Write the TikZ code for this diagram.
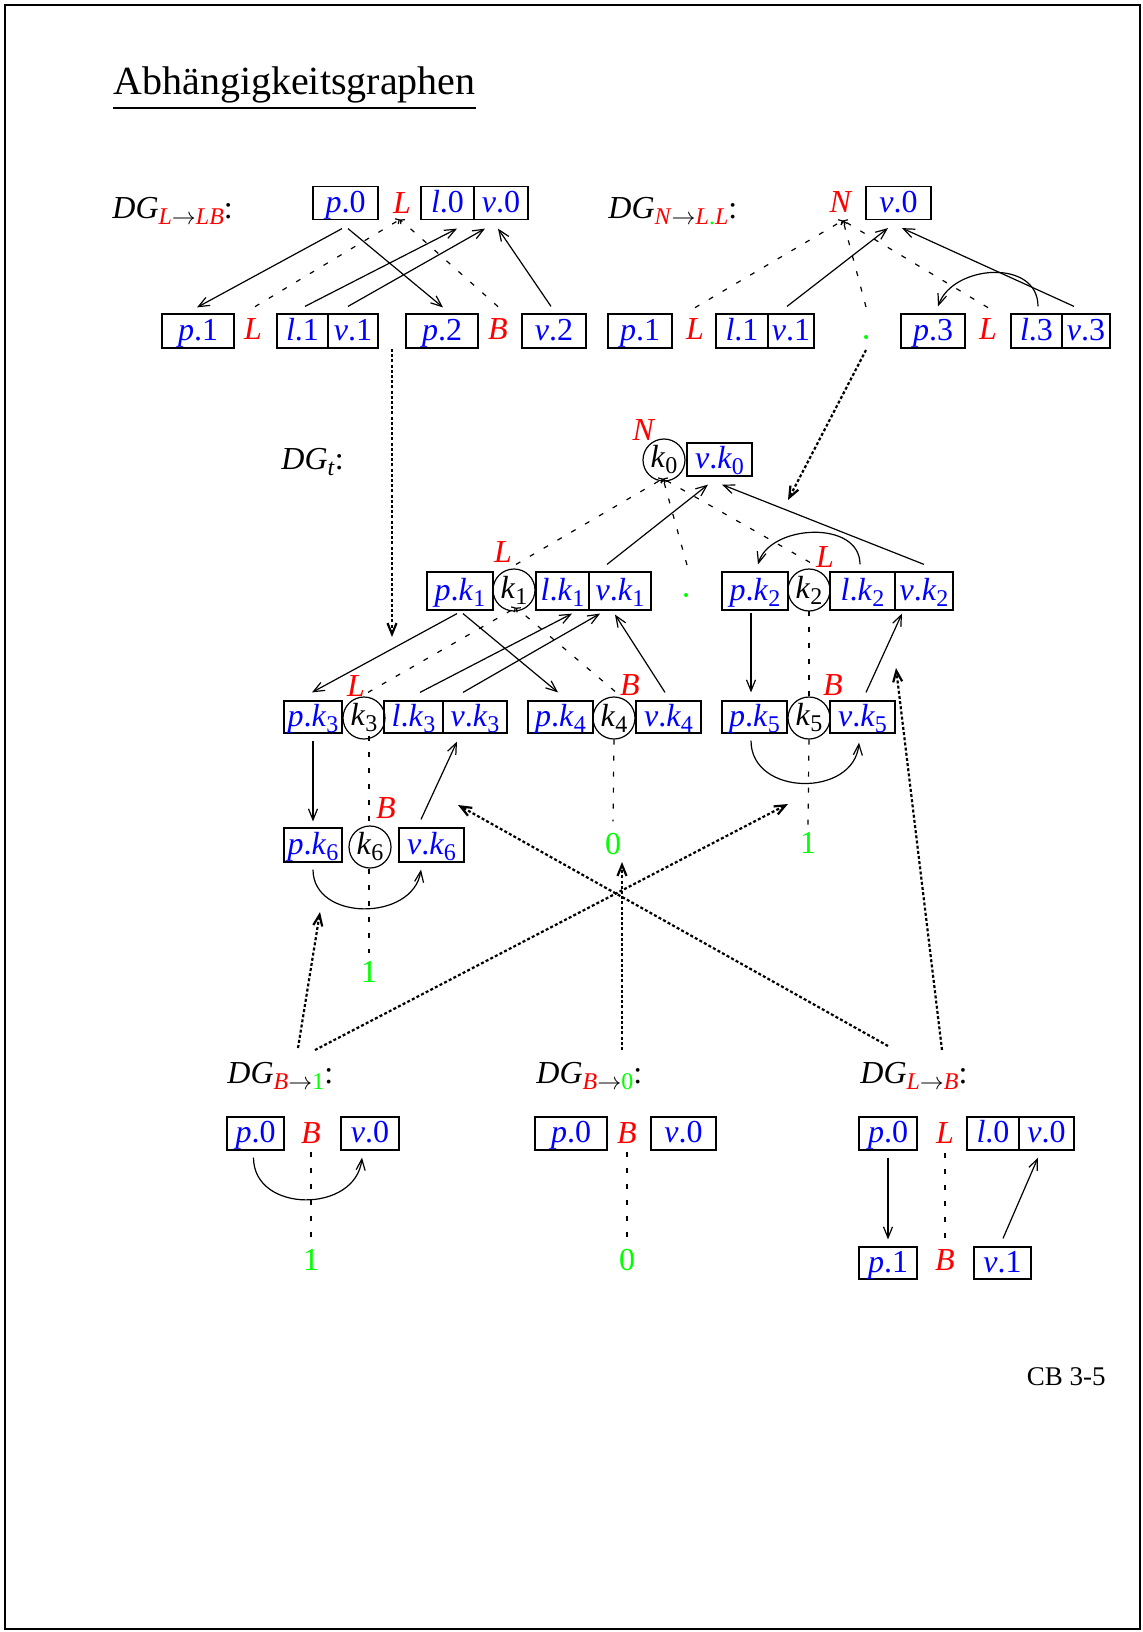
\documentclass[tikz,border=0pt]{standalone}
\usepackage{fontspec}
\setmainfont{Liberation Serif}
\usetikzlibrary{arrows.meta,calc}
\newcommand{\myit}[1]{\textit{#1}}
\newcommand{\mysub}[1]{\raisebox{-3pt}{\fontsize{12}{14}\selectfont #1}}
\tikzset{
 bx/.style={draw, line width=0.6pt, text=blue, inner sep=0pt, text height=11pt, text depth=2pt, minimum height=16.5pt},
 crc/.style={draw, circle, line width=0.6pt, inner sep=0pt, minimum size=21pt},
 rl/.style={text=red, inner sep=1pt, anchor=base},
 gl/.style={text=green, inner sep=1pt, anchor=base},
 lbl/.style={anchor=base west, inner sep=0pt},
 gdot/.style={circle, fill=green, inner sep=0pt, minimum size=2pt},
 arr/.style={line width=0.6pt, -{Straight Barb[length=5.5pt,width=4.5pt]}},
 dsh/.style={line width=0.6pt, dash pattern=on 2.5pt off 5.5pt},
 dshtip/.style={dsh, -{Straight Barb[length=1.5pt,width=3pt]}},
 dtt/.style={line width=1.1pt, dash pattern=on 1.5pt off 1.1pt, -{Straight Barb[length=5.5pt,width=4.5pt]}},
}
\begin{document}
\begin{tikzpicture}[x=0.5pt,y=-0.5pt,font=\fontsize{16}{19}\selectfont]
\useasboundingbox (0,0) rectangle (1142,1632);
\draw[line width=0.6pt] (5,5) rectangle (1140,1629);
% title
\node[lbl, font=\fontsize{20}{24}\selectfont] (title) at (113,95) {Abhängigkeitsgraphen};
\draw[line width=1.1pt] ($(title.base west)+(0,13)$) -- ($(title.base east)+(0,13)$);

% ---------- DG L->LB
\node[lbl] (dgA) at (112,218) {\myit{DG}\mysub{\textcolor{red}{\myit{L}}$\rightarrow$\textcolor{red}{\myit{LB}}}:};
\node[bx, minimum width=32.5pt] (p0a) at (345.5,203) {\myit{p}.0};
\node[rl] (La) at (402,213) {\myit{L}};
\node[bx, minimum width=26.5pt] (l0a) at (447.5,203) {\myit{l}.0};
\node[bx, minimum width=27pt] (v0a) at (501,203) {\myit{v}.0};
\node[bx, minimum width=36pt, minimum height=17pt] (p1a) at (198,331) {\myit{p}.1};
\node[rl] (Lb) at (253,339) {\myit{L}};
\node[bx, minimum width=25.5pt, minimum height=17pt] (l1a) at (302.5,331) {\myit{l}.1};
\node[bx, minimum width=25pt, minimum height=17pt] (v1a) at (353,331) {\myit{v}.1};
\node[bx, minimum width=36pt, minimum height=17pt] (p2a) at (442,331) {\myit{p}.2};
\node[rl] (Ba) at (498,339) {\myit{B}};
\node[bx, minimum width=32pt, minimum height=17pt] (v2a) at (554,331) {\myit{v}.2};
\draw[arr] ($(p0a.south)+(-3.5,8.5)$) -- ($(p1a.north)+(-1,-6)$);
\draw[arr] ($(p0a.south)+(2.5,8.5)$) -- ($(p2a.north)+(1,-6)$);
\draw[arr] ($(l1a.north)+(2.5,-7)$) -- ($(l0a.south)+(9.5,8.5)$);
\draw[arr] ($(v1a.north)+(-5,-7)$) -- ($(v0a.south)+(-16,8.5)$);
\draw[arr] ($(v2a.north)+(-3,-7)$) -- ($(v0a.south)+(-3,8.5)$);
\draw[dshtip] ($(Lb.north)+(2,-9)$) -- ($(La.south)+(-2,4)$);
\draw[dshtip] ($(Ba.north)+(0,-9)$) -- ($(La.south)+(-2,4)$);

% ---------- DG N->L.L
\node[lbl] (dgN) at (608,218) {\myit{DG}\mysub{\textcolor{red}{\myit{N}}$\rightarrow$\textcolor{red}{\myit{L}}\textcolor{green}{.}\textcolor{red}{\myit{L}}}:};
\node[rl] (Nn) at (841,212) {\myit{N}};
\node[bx, minimum width=32.5pt] (v0n) at (898.5,203) {\myit{v}.0};
\node[bx, minimum width=32pt, minimum height=17pt] (p1n) at (640,331) {\myit{p}.1};
\node[rl] (Ln1) at (695,339) {\myit{L}};
\node[bx, minimum width=26pt, minimum height=17pt] (l1n) at (742,331) {\myit{l}.1};
\node[bx, minimum width=23pt, minimum height=17pt] (v1n) at (791,331) {\myit{v}.1};
\node[gdot] (dotn) at (866,337) {};
\node[bx, minimum width=32pt, minimum height=17pt] (p3n) at (933,331) {\myit{p}.3};
\node[rl] (Ln3) at (988,339) {\myit{L}};
\node[bx, minimum width=25.5pt, minimum height=17pt] (l3n) at (1036.5,331) {\myit{l}.3};
\node[bx, minimum width=24pt, minimum height=17pt] (v3n) at (1086,331) {\myit{v}.3};
\draw[arr] ($(v1n.north)+(-4,-7)$) -- ($(v0n.south)+(-10.5,8)$);
\draw[arr] ($(v3n.north)+(-12,-7)$) -- ($(v0n.south)+(3.5,8)$);
\draw[arr] ($(l3n.north)+(1.5,-7)$) .. controls +(0,-48) and +(15,-42) .. ($(p3n.north)+(5,-7)$);
\draw[dshtip] ($(Ln1.north)+(0,-8)$) -- ($(Nn.south)+(2,6)$);
\draw[dshtip] ($(dotn)+(0,-30)$) -- ($(Nn.south)+(2,6)$);
\draw[dshtip] ($(Ln3.north)+(0,-8)$) -- ($(Nn.south)+(2,6)$);

% ---------- DG t
\node[lbl] (dgT) at (281,469) {\myit{DG}\mysub{\myit{t}}:};
\node[rl] (Nt) at (644,440) {\myit{N}};
\node[crc] (k0) at (664,460) {\myit{k}\mysub{0}};
\node[bx, minimum width=32.5pt] (vk0) at (719.5,459.5) {\myit{v}.\myit{k}\mysub{0}};
% row 1
\node[bx, minimum width=33pt, minimum height=19pt] (pk1) at (460,591) {\myit{p}.\myit{k}\mysub{1}};
\node[crc] (k1) at (514,590) {\myit{k}\mysub{1}};
\node[bx, minimum width=26.5pt, minimum height=19pt] (lk1) at (562.5,591) {\myit{l}.\myit{k}\mysub{1}};
\node[bx, minimum width=31pt, minimum height=19pt] (vk1) at (620,591) {\myit{v}.\myit{k}\mysub{1}};
\node[rl] (Lk1) at (503,562) {\myit{L}};
\node[gdot] (dott) at (686,595) {};
\node[bx, minimum width=33pt, minimum height=19pt] (pk2) at (755,591) {\myit{p}.\myit{k}\mysub{2}};
\node[crc] (k2) at (809,590) {\myit{k}\mysub{2}};
\node[bx, minimum width=32.5pt, minimum height=19pt] (lk2) at (862.5,591) {\myit{l}.\myit{k}\mysub{2}};
\node[bx, minimum width=29pt, minimum height=19pt] (vk2) at (924,591) {\myit{v}.\myit{k}\mysub{2}};
\node[rl] (Lk2) at (825,567) {\myit{L}};
% row 2
\node[bx, minimum width=29pt, minimum height=16pt] (pk3) at (313,717) {\myit{p}.\myit{k}\mysub{3}};
\node[crc] (k3) at (364,718) {\myit{k}\mysub{3}};
\node[bx, minimum width=29.5pt, minimum height=16pt] (lk3) at (413.5,717) {\myit{l}.\myit{k}\mysub{3}};
\node[bx, minimum width=32pt, minimum height=16pt] (vk3) at (475,717) {\myit{v}.\myit{k}\mysub{3}};
\node[rl] (Lk3) at (356,696) {\myit{L}};
\node[bx, minimum width=32.5pt, minimum height=16pt] (pk4) at (560.5,717) {\myit{p}.\myit{k}\mysub{4}};
\node[crc] (k4) at (614,718) {\myit{k}\mysub{4}};
\node[bx, minimum width=32.5pt, minimum height=16pt] (vk4) at (668.5,717) {\myit{v}.\myit{k}\mysub{4}};
\node[rl] (Bk4) at (630,695) {\myit{B}};
\node[bx, minimum width=32.5pt, minimum height=16pt] (pk5) at (754.5,717) {\myit{p}.\myit{k}\mysub{5}};
\node[crc] (k5) at (809,718) {\myit{k}\mysub{5}};
\node[bx, minimum width=32.5pt, minimum height=16pt] (vk5) at (862.5,717) {\myit{v}.\myit{k}\mysub{5}};
\node[rl] (Bk5) at (833,695) {\myit{B}};
% row 3
\node[bx, minimum width=29pt, minimum height=17pt] (pk6) at (313,845) {\myit{p}.\myit{k}\mysub{6}};
\node[crc] (k6) at (370,847) {\myit{k}\mysub{6}};
\node[bx, minimum width=32.5pt, minimum height=17pt] (vk6) at (431.5,845) {\myit{v}.\myit{k}\mysub{6}};
\node[rl] (Bk6) at (386,818) {\myit{B}};
\node[gl] (oneA) at (369,982) {1};
\node[gl] (zeroT) at (613,854) {0};
\node[gl] (oneB) at (808,853) {1};
% edges DG t
\draw[arr] ($(vk1.north)+(-13,-7)$) -- ($(vk0.south)+(-11.5,8)$);
\draw[arr] ($(vk2.north)+(0,-7)$) -- ($(vk0.south)+(2.5,8)$);
\draw[arr] ($(lk2.north)+(-2.5,-7)$) .. controls +(0,-45) and +(12,-40) .. ($(pk2.north)+(3,-7)$);
\draw[dshtip] ($(k1.north)+(2,-4)$) -- ($(k0.south)+(-1,-3)$);
\draw[dshtip] ($(dott)+(1,-30)$) -- ($(k0.south)+(-1,-3)$);
\draw[dshtip] ($(k2.north)+(1,-6)$) -- ($(k0.south)+(-1,-3)$);
\draw[arr] ($(pk1.south)+(-3,3)$) -- ($(pk3.north)+(-1,-8)$);
\draw[arr] ($(pk1.south)+(3,3)$) -- ($(pk4.north)+(-2.5,-8)$);
\draw[arr] ($(lk3.north)+(6.5,-8)$) -- ($(lk1.south)+(9.5,3)$);
\draw[arr] ($(vk3.north)+(-12,-8)$) -- ($(vk1.south)+(-20,3)$);
\draw[arr] ($(vk4.north)+(-3.5,-8)$) -- ($(vk1.south)+(-5,4)$);
\draw[dshtip] ($(k3.north)+(4,-4)$) -- ($(k1.south)+(2,-4)$);
\draw[dshtip] ($(k4.north)+(1,-5)$) -- ($(k1.south)+(2,-4)$);
\draw[arr] ($(pk2.south)+(-4,2)$) -- ($(pk5.north)+(-3.5,-8)$);
\draw[arr] ($(vk5.north)+(3.5,-8)$) -- ($(vk2.south)+(-22,3)$);
\draw[dsh] (k5.north) -- ($(k2.south)+(0,-6)$);
\draw[arr] ($(pk3.south)+(0,7)$) -- ($(pk6.north)+(0,-6)$);
\draw[arr] ($(vk6.north)+(-10.5,-8)$) -- ($(vk3.south)+(-18,8)$);
\draw[dsh] ($(k3.south)+(5,-4)$) -- ($(k6.north)+(-1,0)$);
\draw[dsh] ($(k6.south)+(-1,0)$) -- ($(oneA.north)+(0,-5)$);
\draw[arr] ($(pk6.south)+(0,7)$) .. controls +(0,52) and +(-8,52) .. ($(vk6.south)+(-10.5,7)$);
\draw[dsh] (k4.south) -- ($(zeroT.north)+(0,-9)$);
\draw[dsh] (k5.south) -- ($(oneB.north)+(0,-4)$);
\draw[arr] ($(pk5.south)+(-3.5,7)$) .. controls +(0,56) and +(-5,55) .. ($(vk5.south)+(-3.5,9)$);

% ---------- DG B->1
\node[lbl] (dgB1) at (227,1083) {\myit{DG}\mysub{\textcolor{red}{\myit{B}}$\rightarrow$\textcolor{green}{1}}:};
\node[bx, minimum width=28.5pt] (p0b1) at (255.5,1133.5) {\myit{p}.0};
\node[rl] (Bb1) at (311,1143) {\myit{B}};
\node[bx, minimum width=29pt] (v0b1) at (370,1133.5) {\myit{v}.0};
\node[gl] (oneb1) at (311,1270) {1};
\draw[arr] ($(p0b1.south)+(-2,7)$) .. controls +(0,56) and +(-6,56) .. ($(v0b1.south)+(-8,7)$);
\draw[dsh] ($(Bb1.south)+(0,6)$) -- ($(oneb1.north)+(0,-6)$);

% ---------- DG B->0
\node[lbl] (dgB0) at (536,1083) {\myit{DG}\mysub{\textcolor{red}{\myit{B}}$\rightarrow$\textcolor{green}{0}}:};
\node[bx, minimum width=36pt] (p0b0) at (571,1133.5) {\myit{p}.0};
\node[rl] (Bb0) at (627,1143) {\myit{B}};
\node[bx, minimum width=32.5pt] (v0b0) at (683.5,1133.5) {\myit{v}.0};
\node[gl] (zerob0) at (627,1270) {0};
\draw[dsh] ($(Bb0.south)+(0,6)$) -- ($(zerob0.north)+(0,-6)$);

% ---------- DG L->B
\node[lbl] (dgLB) at (860,1083) {\myit{DG}\mysub{\textcolor{red}{\myit{L}}$\rightarrow$\textcolor{red}{\myit{B}}}:};
\node[bx, minimum width=29pt] (p0lb) at (888,1133.5) {\myit{p}.0};
\node[rl] (Llb) at (945,1143) {\myit{L}};
\node[bx, minimum width=26pt] (l0lb) at (993,1133.5) {\myit{l}.0};
\node[bx, minimum width=27.5pt] (v0lb) at (1046.5,1133.5) {\myit{v}.0};
\node[bx, minimum width=29pt, minimum height=16pt] (p1lb) at (888,1263) {\myit{p}.1};
\node[rl] (Blb) at (945,1270) {\myit{B}};
\node[bx, minimum width=28.5pt, minimum height=16pt] (v1lb) at (1002.5,1263) {\myit{v}.1};
\draw[arr] ($(p0lb.south)+(0,7)$) -- ($(p1lb.north)+(0,-7)$);
\draw[arr] ($(v1lb.north)+(0.5,-8)$) -- ($(v0lb.south)+(-8.5,7)$);
\draw[dsh] ($(Llb.south)+(0,8)$) -- ($(Blb.north)+(0,-4)$);

% ---------- dotted links
\coordinate (dA1) at (392,349); \coordinate (dA2) at (392,637);
\coordinate (dN1) at (866,350); \coordinate (dN2) at (788,500);
\coordinate (dB1a) at (298,1048); \coordinate (dB1aE) at (320,912);
\coordinate (dB1b) at (315,1050); \coordinate (dB1bE) at (788,804);
\coordinate (dB0) at (622,1050); \coordinate (dB0E) at (622,862);
\coordinate (dLBa) at (888,1046); \coordinate (dLBaE) at (458,805);
\coordinate (dLBb) at (942,1050); \coordinate (dLBbE) at (896,668);
\draw[dtt] (dA1) -- (dA2);
\draw[dtt] (dN1) -- (dN2);
\draw[dtt] (dB1a) -- (dB1aE);
\draw[dtt] (dB1b) -- (dB1bE);
\draw[dtt] (dB0) -- (dB0E);
\draw[dtt] (dLBa) -- (dLBaE);
\draw[dtt] (dLBb) -- (dLBbE);

\node[anchor=base east, inner sep=0pt, font=\fontsize{13.5}{16}\selectfont] (cb) at (1106,1385) {CB 3-5};
\end{tikzpicture}
\end{document}
